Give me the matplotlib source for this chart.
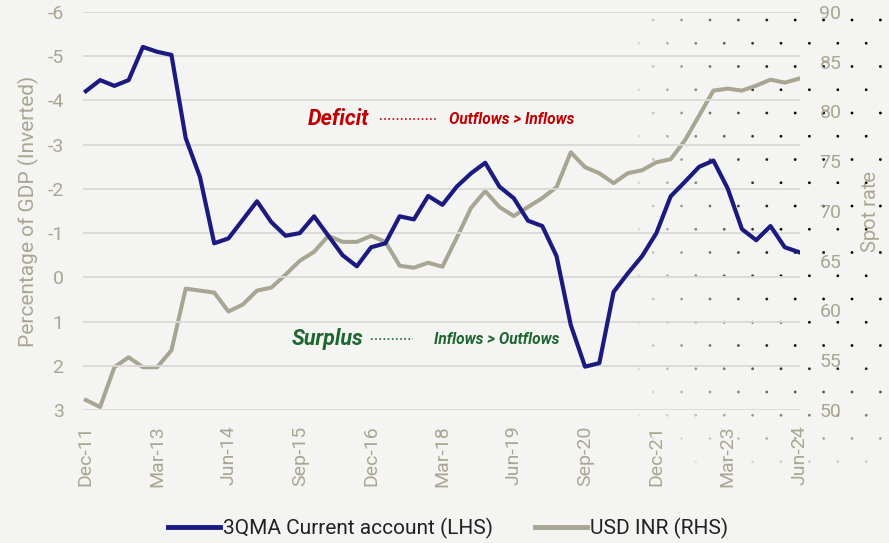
import numpy as np
import matplotlib.pyplot as plt
from matplotlib.lines import Line2D

plt.rcParams['font.family'] = ['Roboto', 'DejaVu Sans']

# quarterly, Dec-11 .. Jun-24
ca = [-4.21, -4.46, -4.33, -4.46, -5.21, -5.10, -5.03, -3.15, -2.27, -0.77,
      -0.88, -1.30, -1.72, -1.25, -0.94, -1.00, -1.38, -0.94, -0.50, -0.25,
      -0.68, -0.77, -1.38, -1.31, -1.84, -1.64, -2.05, -2.35, -2.59, -2.05,
      -1.79, -1.28, -1.16, -0.48, 1.08, 2.02, 1.94, 0.33, -0.09, -0.48,
      -1.00, -1.83, -2.16, -2.50, -2.64, -2.01, -1.09, -0.84, -1.16, -0.68,
      -0.57]
inr = [51.0, 50.3, 54.3, 55.3, 54.3, 54.3, 56.0, 62.2, 62.0, 61.8,
       59.9, 60.6, 62.0, 62.3, 63.6, 65.0, 65.9, 67.5, 66.9, 66.9,
       67.5, 66.9, 64.5, 64.3, 64.8, 64.4, 67.3, 70.3, 72.0, 70.4,
       69.5, 70.4, 71.3, 72.4, 75.9, 74.4, 73.8, 72.8, 73.8, 74.1,
       74.9, 75.2, 77.1, 79.6, 82.1, 82.3, 82.1, 82.6, 83.2, 82.9,
       83.3]
tick_labels = ['Dec-11', 'Mar-13', 'Jun-14', 'Sep-15', 'Dec-16', 'Mar-18',
               'Jun-19', 'Sep-20', 'Dec-21', 'Mar-23', 'Jun-24']
left_ticks = [-6, -5, -4, -3, -2, -1, 0, 1, 2, 3]
right_ticks = [50, 55, 60, 65, 70, 75, 80, 85, 90]

bg = '#f4f4f2'
navy = '#1b1a80'
beige = '#a8a593'
lab = '#aaa692'
red = '#c00000'
green = '#1d6630'

fig = plt.figure(figsize=(8.89, 5.43), dpi=100, facecolor=bg)

# decorative dot pattern on the right
dx, dy = 14.2 / 889, 46.5 / 543
pts = []
for c in range(43, 64):
    xc = c * dx
    off = (c % 2) * dy / 2
    for r in range(-1, 13):
        yc = 1 - (20 / 543) - r * dy - off
        if 0 <= yc <= 1 and xc <= 1:
            pts.append((xc, yc))
pts = np.array(pts)
fade = np.clip((pts[:, 0] * 889 - 620) / 170, 0, 1) * np.clip((pts[:, 1] * 543 - 60) / 140, 0, 1)
keep = fade > 0.05
dots = fig.add_axes([0, 0, 1, 1], facecolor='none', zorder=0)
dots.set_xlim(0, 1)
dots.set_ylim(0, 1)
dots.axis('off')
cols = np.zeros((keep.sum(), 4))
cols[:, 3] = fade[keep]
dots.scatter(pts[keep, 0], pts[keep, 1], s=4, c=cols, linewidths=0)

ax = fig.add_axes([83 / 889, 1 - 410 / 543, 717 / 889, 398 / 543], zorder=1)
ax.set_facecolor('none')
ax2 = ax.twinx()

x = np.arange(len(ca))
ax.plot(x, ca, color=navy, lw=3.0, zorder=3)
ax2.plot(x, inr, color=beige, lw=2.9, zorder=2)
ax.set_zorder(ax2.get_zorder() + 1)
ax.patch.set_visible(False)

ax.set_xlim(-0.2, 50.07)
ax.set_ylim(3, -6)
ax2.set_ylim(50, 90)
ax.set_yticks(left_ticks)
ax.set_yticklabels([str(v) for v in left_ticks])
ax2.set_yticks(right_ticks)
ax.set_xticks(np.arange(0, len(ca), 5))
ax.set_xticklabels(tick_labels, rotation=90)
ax.grid(axis='y', color='#d9d9d7', lw=1.3)
ax.set_axisbelow(True)

for a in (ax, ax2):
    for s in a.spines.values():
        s.set_visible(False)
    a.tick_params(length=0, colors=lab, labelsize=14)
ax.tick_params(axis='y', pad=14)
ax.tick_params(axis='x', pad=11)
ax2.tick_params(axis='y', pad=14)

ax.set_ylabel('Percentage of GDP (Inverted)', color=lab, fontsize=15, labelpad=6)
ax2.set_ylabel('Spot rate', color=lab, fontsize=14.5, labelpad=14)

# annotations
ax.text(0.314, 0.731, 'Deficit', transform=ax.transAxes, color=red,
        fontsize=15.5, fontweight='bold', style='italic', va='center')
ax.plot([0.414, 0.494], [0.731, 0.731], transform=ax.transAxes, color=red,
        lw=1.2, ls=(0, (1, 1.5)))
ax.text(0.510, 0.731, 'Outflows > Inflows', transform=ax.transAxes, color=red,
        fontsize=11.2, fontweight='bold', style='italic', va='center')
ax.text(0.291, 0.178, 'Surplus', transform=ax.transAxes, color=green,
        fontsize=15.5, fontweight='bold', style='italic', va='center')
ax.plot([0.402, 0.460], [0.178, 0.178], transform=ax.transAxes, color=green,
        lw=1.2, ls=(0, (1, 1.5)))
ax.text(0.490, 0.178, 'Inflows > Outflows', transform=ax.transAxes, color=green,
        fontsize=11.2, fontweight='bold', style='italic', va='center')

handles = [Line2D([], [], color=navy, lw=3.5), Line2D([], [], color=beige, lw=3.5)]
fig.legend(handles, ['3QMA Current account (LHS)', 'USD INR (RHS)'],
           loc='center', bbox_to_anchor=(0.504, 1 - 528 / 543), ncol=2,
           frameon=False, fontsize=15, handlelength=2.5, handletextpad=0.15,
           columnspacing=2.0, labelcolor='#222222')

fig.savefig('out.png', dpi=100, facecolor=bg)
